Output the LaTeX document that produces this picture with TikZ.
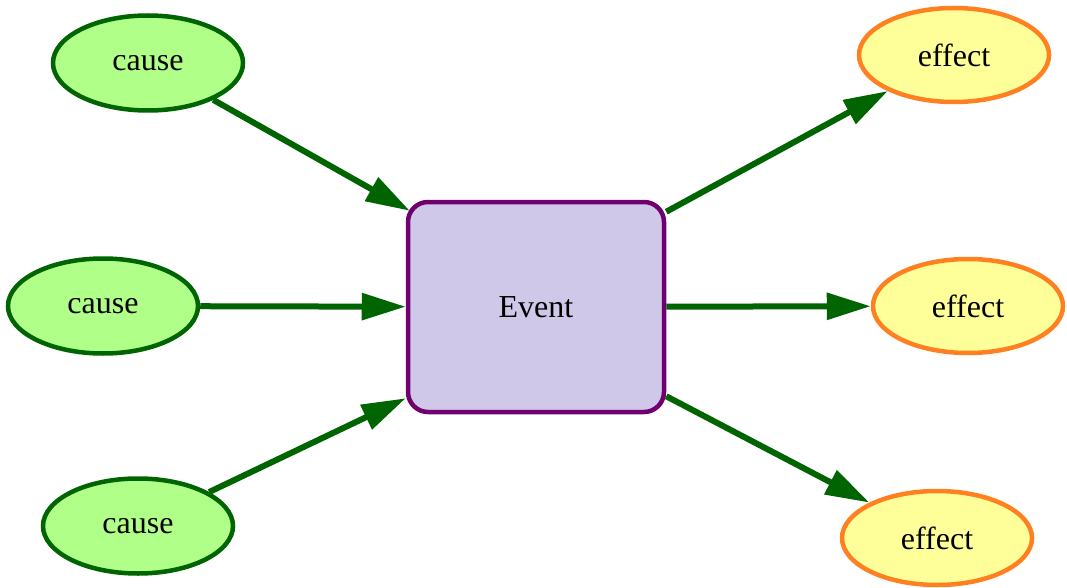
\documentclass[tikz,border=0pt]{standalone}
\usepackage{fontspec}
\setmainfont{Liberation Serif}
\usetikzlibrary{shapes.geometric,arrows.meta,calc}
\definecolor{cfill}{RGB}{176,255,136}
\definecolor{cdraw}{RGB}{0,100,0}
\definecolor{evfill}{RGB}{207,200,232}
\definecolor{evdraw}{RGB}{112,0,112}
\definecolor{effill}{RGB}{255,255,153}
\definecolor{efdraw}{RGB}{255,128,32}
\tikzset{
  causenode/.style={ellipse, draw=cdraw, fill=cfill, line width=4.5pt, minimum width=190pt, minimum height=95pt, inner sep=0pt},
  effectnode/.style={ellipse, draw=efdraw, fill=effill, line width=4.5pt, minimum width=190pt, minimum height=94pt, inner sep=0pt},
  eventnode/.style={rectangle, rounded corners=20pt, draw=evdraw, fill=evfill, line width=4.5pt, minimum width=256pt, minimum height=210pt, inner sep=0pt},
  link/.style={draw=cdraw, line width=6pt, -{Triangle[length=44pt,width=26pt]}},
}
\begin{document}
\begin{tikzpicture}[x=1pt,y=-1pt,font=\fontsize{32}{36}\selectfont]
\useasboundingbox (0,0) rectangle (1067,588);
\node[causenode] (c1) at (148,63) {cause};
\node[causenode] (c2) at (103,306) {cause};
\node[causenode] (c3) at (138,526) {cause};
\node[eventnode] (ev) at (536,307) {Event};
\node[effectnode] (e1) at (954,55) {effect};
\node[effectnode] (e2) at (968,306) {effect};
\node[effectnode] (e3) at (937,538) {effect};
\coordinate (t1) at ($(ev.north west)+(4,11)$);
\coordinate (t3) at ($(ev.south west)+(0,-16)$);
\coordinate (s1) at ($(ev.north east)+(0,12)$);
\coordinate (s3) at ($(ev.south east)+(0,-18)$);
\draw[link] (c1) -- (t1);
\draw[link] (c2) -- (ev);
\draw[link] (c3) -- (t3);
\draw[link] (s1) -- (e1);
\draw[link] (ev) -- (e2);
\draw[link] (s3) -- (e3);
\end{tikzpicture}
\end{document}
